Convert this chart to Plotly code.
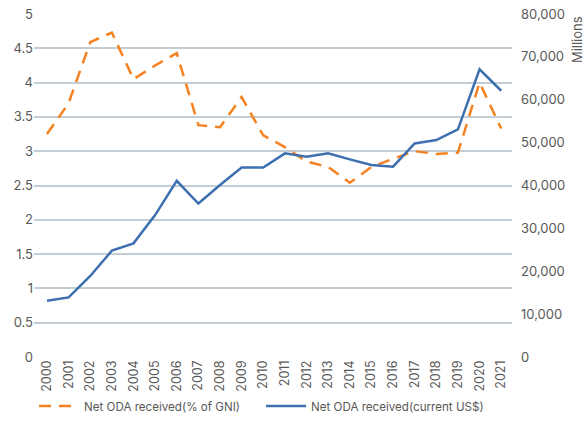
import plotly.graph_objects as go

years = [str(y) for y in range(2000, 2022)]
oda_pct_gni = [3.25, 3.7, 4.59, 4.73, 4.05, 4.25, 4.43, 3.38, 3.35, 3.79, 3.23, 3.06,
               2.85, 2.77, 2.54, 2.77, 2.89, 3.0, 2.96, 2.98, 4.0, 3.33]
oda_usd_millions = [13100, 13900, 18900, 24800, 26500, 33100, 41100, 35800, 40100, 44200,
                    44200, 47500, 46700, 47500, 46100, 44800, 44400, 49800, 50600, 53100,
                    67100, 62100]

left_ticks = [0, 0.5, 1, 1.5, 2, 2.5, 3, 3.5, 4, 4.5, 5]
left_tick_text = ["0", "0.5", "1", "1.5", "2", "2.5", "3", "3.5", "4", "4.5", "5"]
right_ticks = [0, 10000, 20000, 30000, 40000, 50000, 60000, 70000, 80000]

orange = "#F58220"
blue = "#3E6FAF"
grey = "#595959"
grid = "#C3CDD6"

fig = go.Figure()
fig.add_trace(go.Scatter(
    x=years, y=oda_pct_gni, name="Net ODA received(% of GNI)", mode="lines",
    line=dict(color=orange, width=2.5, dash="12px,8px"), yaxis="y", legend="legend"))
fig.add_trace(go.Scatter(
    x=years, y=oda_usd_millions, name="Net ODA received(current US$)", mode="lines",
    line=dict(color=blue, width=2.5), yaxis="y2", legend="legend2"))

legend_common = dict(orientation="h", xanchor="left", y=-0.143, yanchor="middle",
                     font=dict(size=11.6, color=grey), itemwidth=40,
                     bgcolor="rgba(0,0,0,0)")

fig.update_layout(
    width=588, height=441,
    margin=dict(l=34, r=76, t=14, b=84, autoexpand=False),
    paper_bgcolor="white", plot_bgcolor="white",
    font=dict(family="Inter, Roboto, Arial", size=13, color=grey),
    xaxis=dict(type="category", tickangle=-90, showgrid=False, zeroline=False,
               range=[-0.6, 21.5], automargin=False,
               showline=False, ticks="", tickfont=dict(size=12.5, color=grey)),
    yaxis=dict(range=[0, 5], tickvals=left_ticks, ticktext=left_tick_text, automargin=False,
               showgrid=True, gridcolor=grid, gridwidth=1.5, zeroline=False,
               showline=False, ticks="", tickfont=dict(size=13, color=grey)),
    yaxis2=dict(range=[0, 80000], tickvals=right_ticks, tickformat=",", automargin=False,
                overlaying="y", side="right", showgrid=False, zeroline=False,
                showline=False, ticks="", tickfont=dict(size=13, color=grey),
                ticklabelstandoff=8),
    legend=dict(x=0.0, **legend_common),
    legend2=dict(x=0.475, **legend_common),
    showlegend=True,
    annotations=[dict(text="Millions", textangle=-90, xref="paper", yref="paper",
                      x=1.136, y=0.924, xanchor="center", yanchor="middle",
                      showarrow=False, font=dict(size=13, color=grey))],
)

fig.write_html("out.html", config={"displayModeBar": False},
               post_script="document.body.style.margin='0';document.body.style.padding='0';")
